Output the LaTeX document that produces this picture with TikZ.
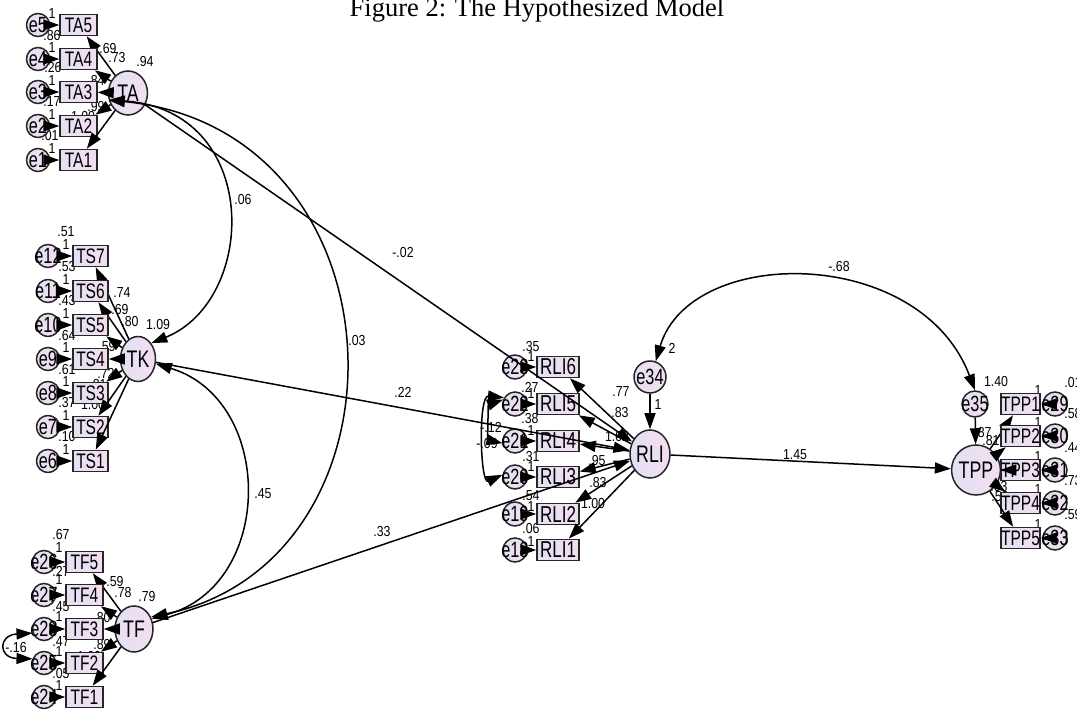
\documentclass[tikz,border=0pt]{standalone}
\usepackage{fontspec}
\setmainfont{Liberation Serif}
\newfontfamily\labf[FakeStretch=0.74]{Liberation Sans}
\newfontfamily\numf[FakeStretch=0.85]{Liberation Sans}
\usetikzlibrary{shapes.geometric,arrows.meta}
\pgfdeclarelayer{bg}
\pgfsetlayers{bg,main}
\definecolor{lavA}{RGB}{228,224,242}
\definecolor{lavB}{RGB}{243,222,241}
\begin{document}
\begin{tikzpicture}[x=1pt,y=-1pt,
  obs/.style={rectangle,draw=black!85,line width=1.5pt,minimum height=21pt,inner sep=0pt,left color=lavA,right color=lavB,font=\labf\fontsize{21}{21}\selectfont},
  lat/.style={ellipse,draw=black!85,line width=1.5pt,inner sep=0pt,left color=lavA,right color=lavB,font=\labf\fontsize{24}{24}\selectfont},
  err/.style={circle,draw=black!85,line width=1.5pt,minimum size=23pt,inner sep=0pt,left color=lavA,right color=lavB},
  errl/.style={inner sep=0pt,font=\labf\fontsize{22}{22}\selectfont},
  num/.style={inner sep=0pt,font=\numf\fontsize{14.5}{14.5}\selectfont},
  arr/.style={line width=1.5pt,-{Triangle[length=16pt,width=11pt]}},
  darr/.style={line width=1.5pt,{Triangle[length=16pt,width=11pt]}-{Triangle[length=16pt,width=11pt]}},
]
\useasboundingbox (0,0) rectangle (1077,711);
\begin{pgfonlayer}{bg}
\fill[white] (0,0) rectangle (1077,711);
\node[anchor=base,inner sep=0pt,font=\fontsize{26.5}{26.5}\selectfont] (title) at (537,17) {Figure 2: The Hypothesized Model};
% labels
\foreach \t/\x/\y [count=\i] in {
 1/52/14, 1/52/48, 1/52/81, 1/52/115, 1/52/149,
 .86/52/36, .26/53/68, .17/52/102, .01/50/136,
 .69/108/49, .73/117/58, .94/145/62, .84/96/81, .99/96/107, 1.00/83/117,
 1/66/245, 1/66/280, 1/66/314, 1/66/348, 1/66/382, 1/66/416, 1/66/450,
 .51/66/232, .53/67/267, .43/67/301, .64/67/336, .61/67/370, .37/67/403, .10/67/437,
 .74/122/293, .69/120/310, .80/130/322, 1.09/158/325, .59/107/347, .72/106/373, .81/98/385, 1.00/93/405,
 .67/61/535, 1/59/548, .27/61/571, 1/59/580, .45/61/607, 1/59/617, .47/61/642, 1/59/652, .05/61/674, 1/59/686,
 .59/115/582, .78/123/593, .79/147/597, .80/102/618, .89/102/645, 1.00/89/657, -.16/16/648,
 .35/531/347, 1/531/357, .27/530/387, 1/531/394, .38/530/419, 1/531/431, .31/531/457, 1/531/467, .54/531/496, 1/531/507, .06/531/529, 1/531/542,
 .77/621/392, .83/620/413, 1.02/617/437, .95/597/461, .83/598/483, 1.00/593/504,
 -.12/491/427, -.09/487/444, 2/672/348, 1/658/405,
 1.40/996/382, .87/983/433, .81/991/441, .63/999/487, .58/1000/497,
 1/1038/391, 1/1038/423, 1/1038/457, 1/1038/490, 1/1038/525,
 .01/1073/383, .58/1073/414, .44/1073/448, .73/1073/481, .59/1073/515,
 -.02/403/253, .22/403/392, .33/382/532, 1.45/795/455, .06/243/200, .03/357/341, .45/263/494, -.68/839/267}
 \node[num] (lab\i) at (\x,\y) {\t};
\end{pgfonlayer}
% TA group
\node[lat,minimum width=39pt,minimum height=44pt] (TA) at (128,93) {TA};
\foreach \n/\y/\ee in {TA5/25/e5, TA4/59/e4, TA3/92/e3, TA2/126/e2, TA1/160/e1}{
  \node[obs,minimum width=37pt] (\n) at (78.5,\y) {\n};
  \node[err,label={[errl]center:\ee}] (\ee) at (38,\y) {};
  \draw[arr] (TA) -- (\n);
  \draw[arr] (\ee) -- (\n);
}
% TK group
\node[lat,minimum width=35pt,minimum height=45pt] (TK) at (138,359) {TK};
\foreach \n/\y/\ee in {TS7/256/e12, TS6/291/e11, TS5/325/e10, TS4/359/e9, TS3/393/e8, TS2/427/e7, TS1/461/e6}{
  \node[obs,minimum width=35pt] (\n) at (90.5,\y) {\n};
  \node[err,label={[errl]center:\ee}] (\ee) at (48,\y) {};
  \draw[arr] (TK) -- (\n);
  \draw[arr] (\ee) -- (\n);
}
% TF group
\node[lat,minimum width=38pt,minimum height=46pt] (TF) at (134,629) {TF};
\foreach \n/\y/\ee in {TF5/562/e26, TF4/595/e27, TF3/629/e28, TF2/663/e25, TF1/697/e24}{
  \node[obs,minimum width=37pt] (\n) at (84.5,\y) {\n};
  \node[err,label={[errl]center:\ee}] (\ee) at (44,\y) {};
  \draw[arr] (TF) -- (\n);
  \draw[arr] (\ee) -- (\n);
}
% RLI group
\node[lat,minimum width=40pt,minimum height=48pt] (RLI) at (650,454) {RLI};
\node[err,minimum size=32pt,label={[errl]center:e34}] (e34) at (650,377) {};
\foreach \n/\y/\ee in {RLI6/367/e23, RLI5/404/e22, RLI4/441/e21, RLI3/477/e20, RLI2/514/e19, RLI1/550/e18}{
  \node[obs,minimum width=42pt,font=\labf\fontsize{23}{23}\selectfont] (\n) at (558,\y) {\n};
  \node[err,minimum size=24pt,label={[errl]center:\ee}] (\ee) at (515,\y) {};
  \draw[arr] (RLI) -- (\n);
  \draw[arr] (\ee) -- (\n);
}
% TP group
\node[lat,minimum width=48pt,minimum height=50pt] (TP) at (976,470) {TPP};
\node[err,minimum size=26pt,label={[errl]center:e35}] (e35) at (975,404) {};
\foreach \n/\y/\ee in {TPP1/404/e29, TPP2/436/e30, TPP3/470/e31, TPP4/503/e32, TPP5/538/e33}{
  \node[obs,minimum width=39pt] (\n) at (1020.5,\y) {\n};
  \node[err,minimum size=24pt,label={[errl]center:\ee}] (\ee) at (1055,\y) {};
  \draw[arr] (TP) -- (\n);
  \draw[arr] (\ee) -- (\n);
}
% structural paths
\draw[arr] (e34) -- (RLI);
\draw[arr] (e35) -- (TP);
\draw[arr] (TA) -- (RLI);
\draw[arr] (TK) -- (RLI);
\draw[arr] (TF) -- (RLI);
\draw[arr] (RLI) -- (TP);
% covariances
\draw[darr] (TA.200) .. controls (262,110) and (258,300) .. (TK.50);
\draw[darr] (TA.200) .. controls (410,130) and (420,560) .. (TF.35);
\draw[darr] (TK.-15) .. controls (275,400) and (275,585) .. (TF.30);
\draw[darr] (e34.70) .. controls (690,245) and (920,245) .. (e35.90);
\draw[darr] (e22.160) .. controls (488,405) and (488,440) .. (e21.190);
\draw[darr] (e22.150) .. controls (478,395) and (480,485) .. (e20.170);
\draw[darr] (e28.200) .. controls (-2,635) and (-2,658) .. (e25.160);
\end{tikzpicture}
\end{document}
